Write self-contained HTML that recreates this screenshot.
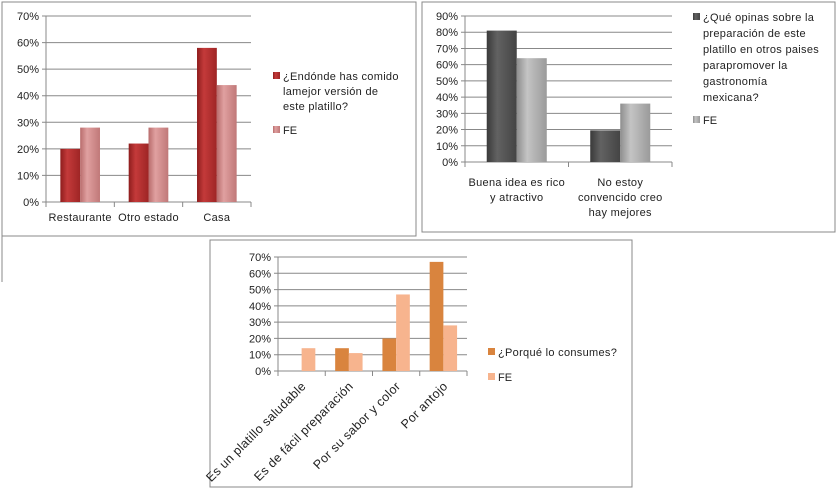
<!DOCTYPE html>
<html><head><meta charset="utf-8"><style>
body{margin:0;background:#fff;width:840px;height:492px;overflow:hidden}
svg{font-family:"Liberation Sans","DejaVu Sans",sans-serif}
</style></head><body>
<svg id="s" width="840" height="492">
<defs>
<linearGradient id="gRed" x1="0" x2="1"><stop offset="0" stop-color="#8e1d1d"/><stop offset="0.35" stop-color="#c43a3a"/><stop offset="1" stop-color="#9e2525"/></linearGradient>
<linearGradient id="gPink" x1="0" x2="1"><stop offset="0" stop-color="#b86c6c"/><stop offset="0.35" stop-color="#e0a0a0"/><stop offset="1" stop-color="#c07878"/></linearGradient>
<linearGradient id="gDark" x1="0" x2="1"><stop offset="0" stop-color="#3a3a3a"/><stop offset="0.35" stop-color="#626262"/><stop offset="1" stop-color="#444"/></linearGradient>
<linearGradient id="gLight" x1="0" x2="1"><stop offset="0" stop-color="#8e8e8e"/><stop offset="0.35" stop-color="#c4c4c4"/><stop offset="1" stop-color="#9a9a9a"/></linearGradient>
</defs>
<line x1="2" y1="236" x2="2" y2="282" stroke="#888"/>
</svg>
<script>
const c1Categories=["Restaurante","Otro estado","Casa"];
const c1SeriesA=[20,22,58];
const c1SeriesB=[28,28,44];
const c1Ticks=["0%","10%","20%","30%","40%","50%","60%","70%"];
const c2Categories=[["Buena idea es rico","y atractivo"],["No estoy","convencido creo","hay mejores"]];
const c2SeriesA=[81,19.5];
const c2SeriesB=[64,36];
const c2Ticks=["0%","10%","20%","30%","40%","50%","60%","70%","80%","90%"];
const c3Categories=["Es un platillo saludable","Es de fácil preparación","Por su sabor y color","Por antojo"];
const c3SeriesA=[0,14,20,67];
const c3SeriesB=[14,11,47,28];
const c3Ticks=["0%","10%","20%","30%","40%","50%","60%","70%"];

const S=document.getElementById('s');const NS="http://www.w3.org/2000/svg";
function mk(t,a,txt){const e=document.createElementNS(NS,t);for(const k in a)e.setAttribute(k,a[k]);if(txt!==undefined)e.textContent=txt;S.appendChild(e);return e;}

function chart(o){
  const fr=mk('rect',{x:o.fx,y:o.fy,width:o.fw,height:o.fh,fill:'#fff',stroke:'#888'});
  
  
  const max=(o.ticks.length-1)*10;
  const y=v=>o.y0-(v/max)*(o.y0-o.yTop);
  const n=o.cats.length;const cw=(o.xR-o.x0)/n;
  o.ticks.forEach((t,i)=>{
    const yy=y(i*10);
    const g=mk('line',{x1:o.x0-4,x2:o.xR,y1:yy,y2:yy,stroke:'#888'});
    
    
    const l=mk('text',{x:o.x0-7,y:yy+4,'text-anchor':'end','font-size':11,fill:'#222'},t);
    
    
  });
  const ax=mk('line',{x1:o.x0,x2:o.x0,y1:o.yTop,y2:o.y0,stroke:'#888'});
  
  
  for(let i=0;i<=n;i++){const xx=o.x0+i*cw;
    const tk=mk('line',{x1:xx,x2:xx,y1:o.y0,y2:o.y0+5,stroke:'#888'});
    
    }
  const bw=cw*o.bf;
  o.cats.forEach((cat,i)=>{
    const cx=o.x0+i*cw+cw/2;
    [[o.a,o.ca],[o.b,o.cb]].forEach(([arr,col],k)=>{
      const v=arr[i];if(v<=0)return;
      const bx=k===0?cx-bw:cx;
      const r=mk('rect',{x:bx,y:y(v),width:bw,height:o.y0-y(v),fill:col});
      
      
    });
    let lab;
    if(o.rot){
      const ax2=cx+5,ay2=o.y0+16;
      lab=mk('text',{x:ax2,y:ay2,'text-anchor':'end','font-size':12.5,'letter-spacing':0.3,fill:'#222',transform:`rotate(-45 ${ax2} ${ay2})`},cat);
    }else{
      const lines=Array.isArray(cat)?cat:[cat];
      lab=mk('text',{x:cx,y:o.y0+o.ly,'text-anchor':'middle','font-size':11,'letter-spacing':0.3,fill:'#222'});
      lines.forEach((ln,j)=>{const ts=document.createElementNS(NS,'tspan');ts.setAttribute('x',cx);ts.setAttribute('dy',j?15:0);ts.textContent=ln;lab.appendChild(ts);});
    }
    
    
  });
  const la=o.leg;
  const s1=mk('rect',{x:la.x,y:la.y1-8,width:7,height:7,fill:o.ca});
  
  
  const t1=mk('text',{x:la.x+10,y:la.y1,'font-size':11,'letter-spacing':0.3,fill:'#222'});
  
  
  la.lines.forEach((ln,j)=>{const ts=document.createElementNS(NS,'tspan');ts.setAttribute('x',la.x+10);ts.setAttribute('dy',j?la.lh:0);ts.textContent=ln;t1.appendChild(ts);});
  const s2=mk('rect',{x:la.x,y:la.y2-8,width:7,height:7,fill:o.cb});
  
  
  const t2=mk('text',{x:la.x+10,y:la.y2,'font-size':11,fill:'#222'},'FE');
  
  
}
chart({name:'chart1',fx:2,fy:2,fw:414,fh:234,x0:46,xR:251,yTop:16,y0:202,cats:c1Categories,a:c1SeriesA,b:c1SeriesB,ticks:c1Ticks,ca:'url(#gRed)',cb:'url(#gPink)',bf:0.29,ly:19,
  leg:{x:273,y1:80,lh:15,lines:["¿Endónde has comido","lamejor versión de","este platillo?"],y2:134}});
chart({name:'chart2',fx:422,fy:2,fw:413,fh:230,x0:465,xR:672,yTop:16,y0:162,cats:c2Categories,a:c2SeriesA,b:c2SeriesB,ticks:c2Ticks,ca:'url(#gDark)',cb:'url(#gLight)',bf:0.29,ly:24,
  leg:{x:693,y1:21,lh:16,lines:["¿Qué opinas sobre la","preparación de este","platillo en otros paises","parapromover la","gastronomía","mexicana?"],y2:124}});
chart({name:'chart3',fx:210,fy:240,fw:422,fh:247,x0:278,xR:467,yTop:257,y0:371,cats:c3Categories,a:c3SeriesA,b:c3SeriesB,ticks:c3Ticks,ca:'#d9843e',cb:'#f7b48e',bf:0.29,rot:true,
  leg:{x:488,y1:356,lh:15,lines:["¿Porqué lo consumes?"],y2:381}});
</script>
</body></html>
